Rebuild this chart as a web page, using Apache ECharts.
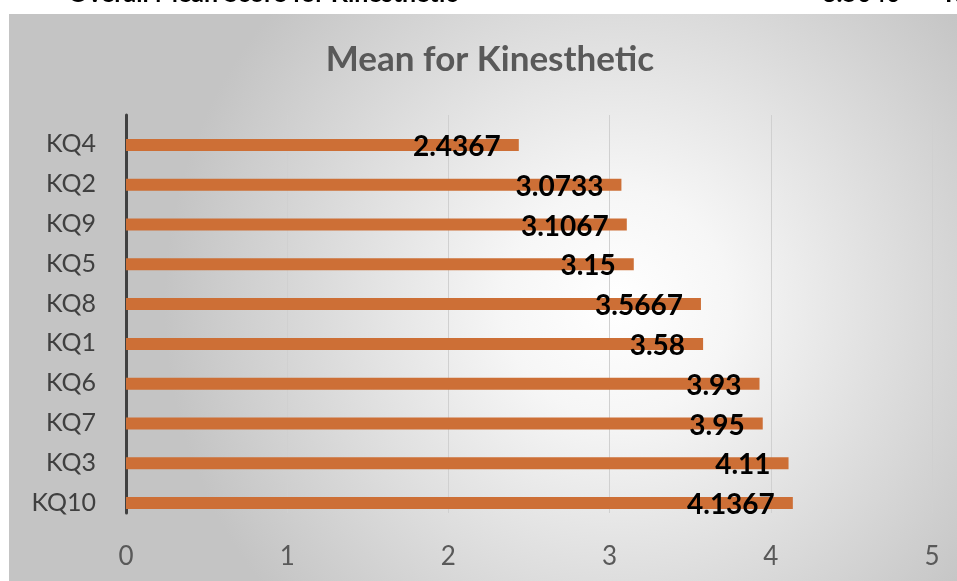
<!DOCTYPE html>
<html>
<head>
<meta charset="utf-8">
<script src="https://cdn.jsdelivr.net/npm/echarts@6/dist/echarts.min.js"></script>
<style>
html,body{margin:0;padding:0;background:#fff;}
#container{width:957px;height:581px;}
</style>
</head>
<body>
<div id="container"></div>
<script>
var categories = ['KQ4','KQ2','KQ9','KQ5','KQ8','KQ1','KQ6','KQ7','KQ3','KQ10'];
var means = [2.4367, 3.0733, 3.1067, 3.15, 3.5667, 3.58, 3.93, 3.95, 4.11, 4.1367];
var xTicks = [0, 1, 2, 3, 4, 5];

var dom = document.querySelector("#container");
var myChart = echarts.init(dom);

var option = {
    animation: false,
    graphic: [
        {
            type: 'rect', z: -10, silent: true,
            shape: {x: 9, y: 14, width: 980, height: 580},
            style: {
                fill: new echarts.graphic.RadialGradient(0.62, 0.5, 0.78, [
                    {offset: 0, color: '#ffffff'},
                    {offset: 0.25, color: '#f6f6f6'},
                    {offset: 1, color: '#c4c4c4'}
                ])
            }
        },
        {
            type: 'text', left: 68, top: -19,
            style: {text: 'Overall Mean Score for Kinesthetic', font: 'bold 25px Lato', fill: '#000'}
        },
        {
            type: 'text', left: 822, top: -19,
            style: {text: '3.5040', font: 'bold 25px Lato', fill: '#000'}
        },
        {
            type: 'text', left: 945, top: -19,
            style: {text: 'R', font: 'bold 25px Lato', fill: '#000'}
        },
        {
            type: 'text', x: 490, y: 60,
            style: {text: 'Mean for Kinesthetic', font: 'bold 35px Lato', fill: '#595959',
                    align: 'center', verticalAlign: 'middle'}
        }
    ],
    grid: {left: 126, right: 25, top: 115, bottom: 68},
    xAxis: {
        type: 'value',
        min: xTicks[0],
        max: xTicks[xTicks.length - 1],
        interval: 1,
        axisLine: {show: false},
        axisTick: {show: false},
        axisLabel: {color: '#595959', fontFamily: 'Lato', fontSize: 26, margin: 31},
        splitLine: {lineStyle: {color: '#d0d0d0', width: 1}}
    },
    yAxis: {
        type: 'category',
        inverse: true,
        data: categories,
        axisLine: {lineStyle: {color: '#404040', width: 3}},
        axisTick: {show: false},
        axisLabel: {
            margin: 30,
            formatter: function (v) { return '{a|' + v + '}'; },
            rich: {a: {color: '#404040', fontFamily: 'Lato', fontSize: 25, padding: [19, 0, 0, 0]}}
        }
    },
    series: [
        {
            type: 'bar',
            data: [],
            barWidth: 12,
            barGap: '67%'
        },
        {
            type: 'bar',
            data: means,
            barWidth: 12,
            barGap: '67%',
            itemStyle: {color: '#cd6f36'},
            label: {
                show: true,
                position: 'insideRight',
                distance: 18,
                offset: [0, 2],
                color: '#000',
                fontFamily: 'Lato',
                fontWeight: 'bold',
                fontSize: 28,
                formatter: function (p) { return String(p.value); }
            }
        }
    ]
};

myChart.setOption(option);
</script>
</body>
</html>
